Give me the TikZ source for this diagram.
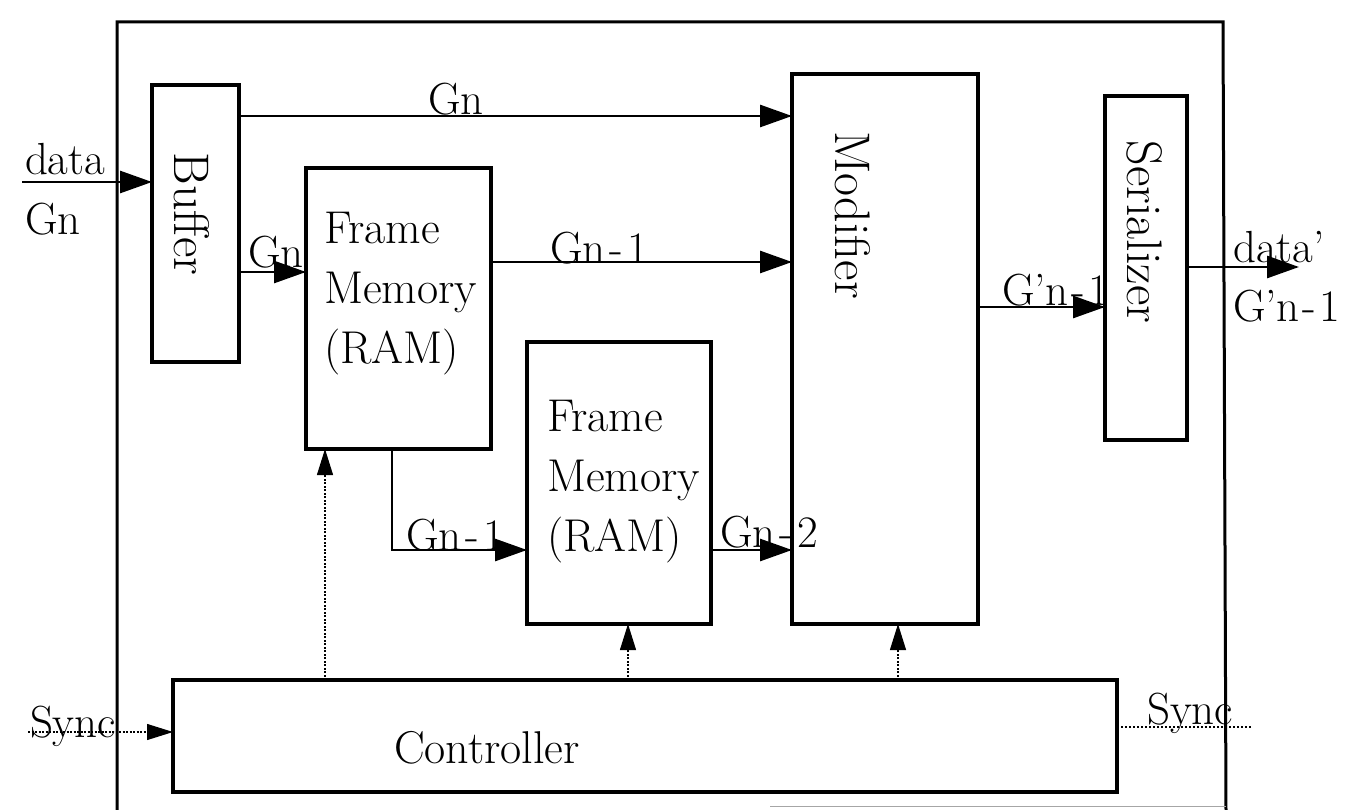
\documentclass[tikz,border=0pt]{standalone}
\usetikzlibrary{arrows.meta}
\begin{document}
\begin{tikzpicture}[x=1pt,y=-1pt,
  box/.style={draw, line width=3.2pt, inner sep=0pt, outer sep=0pt},
  lbl/.style={font=\fontsize{45}{50}\selectfont, inner sep=0pt, outer sep=0pt},
  blocktext/.style={font=\fontsize{46}{60}\selectfont, inner sep=0pt, align=left},
  vlbl/.style={font=\fontsize{50}{54}\selectfont, inner sep=0pt, rotate=-90},
  arr/.style={line width=2.8pt, -{Triangle[length=32pt,width=22pt]}},
  ctl/.style={line width=1.1pt, dash pattern=on 2pt off 1.5pt, -{Triangle[length=26pt,width=16pt]}},
  syncline/.style={line width=1.1pt, dash pattern=on 2pt off 2pt},
]
\useasboundingbox (0,0) rectangle (1366,810);
% outer frame
\draw[line width=3pt] (117,812) -- (117,22) -- (1223,22) -- (1226,812);
\draw[line width=1pt, black!35] (770,806) -- (1226,806);

% blocks
\node[box, minimum width=87pt, minimum height=277pt] (buf) at (195.5,223.5) {};
\node[box, minimum width=185pt, minimum height=281pt] (fm1) at (398.5,308.5) {};
\node[box, minimum width=184pt, minimum height=282pt] (fm2) at (619,483) {};
\node[box, minimum width=186pt, minimum height=550pt] (mod) at (885,349) {};
\node[box, minimum width=82pt, minimum height=344pt] (ser) at (1146,268) {};
\node[box, minimum width=944pt, minimum height=112pt] (ctrl) at (645,736) {};

% block texts
\node[vlbl] (buft) at (192,214) {Buffer};
\node[vlbl] (modt) at (853,215) {Modifier};
\node[vlbl] (sert) at (1145,232) {Serializer};
\node[blocktext, anchor=north west] (fm1t) at (324,212) {Frame\\Memory\\(RAM)};
\node[blocktext, anchor=north west] (fm2t) at (547,400) {Frame\\Memory\\(RAM)};
\node[lbl, font=\fontsize{46}{50}\selectfont] (ctrlt) at (487,748) {Controller};

% coordinates for free ends
\coordinate (din) at (22,182);
\coordinate (dout) at (1299,267);
\coordinate (syncin) at (28,732);
\coordinate (syncout) at (1252,727);

% data connectors
\draw[arr] (din) -- (buf.west |- din);
\draw[arr] (buf.east |- 0,116) -- (mod.west |- 0,116);
\draw[arr] (buf.east |- 0,272) -- (fm1.west |- 0,272);
\draw[arr] (fm1.east |- 0,262) -- (mod.west |- 0,262);
\draw[arr] (fm1.south -| 392,0) -- (392,550) -- (fm2.west |- 0,550);
\draw[arr] (fm2.east |- 0,550) -- (mod.west |- 0,550);
\draw[arr] (mod.east |- 0,307) -- (ser.west |- 0,307);
\draw[arr] (ser.east |- dout) -- (dout);

% control connectors
\draw[ctl] (ctrl.north -| 325,0) -- (fm1.south -| 325,0);
\draw[ctl] (ctrl.north -| 628,0) -- (fm2.south -| 628,0);
\draw[ctl] (ctrl.north -| 898,0) -- (mod.south -| 898,0);
\draw[ctl] (syncin) -- (ctrl.west |- syncin);
\draw[syncline] (ctrl.east |- syncout) -- (syncout);

% labels
\node[lbl, anchor=base west] (ldata) at (25,175) {data};
\node[lbl, anchor=base west] (lgn) at (25,235) {Gn};
\node[lbl, anchor=base west] (lgn1) at (428,115) {Gn};
\node[lbl, anchor=base west] (lgn2) at (248,268) {Gn};
\node[lbl, anchor=base west] (lgnm1a) at (550,264) {Gn\kern4pt-\kern4pt1};
\node[lbl, anchor=base west] (lgnm1b) at (406,550) {Gn\kern4pt-\kern4pt1};
\node[lbl, anchor=base west] (lgnm2) at (720,547) {Gn\kern4pt-\kern4pt2};
\node[lbl, anchor=base west] (lgp) at (1002,306) {G'n\kern3pt-\kern3pt1};
\node[lbl, anchor=base west] (ldatap) at (1233,263) {data'};
\node[lbl, anchor=base west] (lgpo) at (1233,322) {G'n\kern3pt-\kern3pt1};
\node[lbl, anchor=base west] (lsync) at (30,737) {Sync};
\node[lbl, anchor=base west] (lsynco) at (1147,724) {Sync};
\end{tikzpicture}
\end{document}
